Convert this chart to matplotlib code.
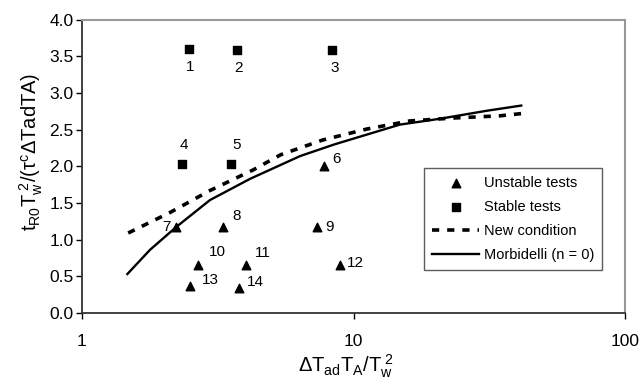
import numpy as np
import matplotlib
matplotlib.use("Agg")
import matplotlib.pyplot as plt

plt.rcParams['font.family'] = ['Liberation Sans', 'DejaVu Sans']
plt.rcParams['mathtext.fontset'] = 'custom'
plt.rcParams['mathtext.rm'] = 'Liberation Sans'
plt.rcParams['mathtext.it'] = 'Liberation Sans'
plt.rcParams['mathtext.default'] = 'regular'

# stable tests (squares)
stable_id = ['1', '2', '3', '4', '5']
stable_x = [2.48, 3.72, 8.33, 2.34, 3.54]
stable_y = [3.60, 3.59, 3.59, 2.03, 2.03]

# unstable tests (triangles)
unstable_id = ['6', '7', '8', '9', '10', '11', '12', '13', '14']
unstable_x = [7.79, 2.22, 3.31, 7.34, 2.67, 4.02, 8.92, 2.50, 3.79]
unstable_y = [2.01, 1.17, 1.17, 1.17, 0.66, 0.66, 0.66, 0.36, 0.34]

# curves
morb_x = [1.47, 1.78, 2.22, 2.96, 4.16, 6.35, 8.5, 14.8, 20.8, 31.0, 41.4]
morb_y = [0.53, 0.86, 1.17, 1.54, 1.83, 2.14, 2.30, 2.57, 2.65, 2.76, 2.83]
new_x = [1.48, 2.11, 2.96, 4.26, 5.4, 7.7, 11.2, 16.1, 23.3, 34.6, 41.4]
new_y = [1.09, 1.37, 1.67, 1.95, 2.16, 2.36, 2.51, 2.62, 2.66, 2.69, 2.72]

# label offsets in points (dx, dy)
stable_off = [(1, -13), (1, -13), (2, -13), (1, 14), (4, 14)]
unstable_off = [(9, 5), (-7, 0), (10, 8), (9, 0), (14, 9), (12, 8), (11, 1), (15, 5), (12, 4)]

fig = plt.figure(figsize=(6.4, 3.82), dpi=100)
ax = fig.add_axes([0.128, 0.181, 0.849, 0.767])

ax.plot(new_x, new_y, color='black', lw=2.6, ls=(0, (2.0, 2.2)), label='New condition')
ax.plot(morb_x, morb_y, color='black', lw=1.7, label='Morbidelli (n = 0)')
ax.scatter(unstable_x, unstable_y, marker='^', s=38, color='black', label='Unstable tests', zorder=3)
ax.scatter(stable_x, stable_y, marker='s', s=30, color='black', label='Stable tests', zorder=3)

for i, xv, yv, (dx, dy) in zip(stable_id, stable_x, stable_y, stable_off):
    ax.annotate(i, (xv, yv), xytext=(dx, dy), textcoords='offset points',
                ha='center', va='center', fontsize=11)
for i, xv, yv, (dx, dy) in zip(unstable_id, unstable_x, unstable_y, unstable_off):
    ax.annotate(i, (xv, yv), xytext=(dx, dy), textcoords='offset points',
                ha='center', va='center', fontsize=11)

ax.set_xscale('log')
ax.set_xlim(1, 100)
ax.set_ylim(0, 4.0)
ax.set_yticks(np.arange(0, 4.01, 0.5))
ax.set_yticklabels(['%.1f' % v for v in np.arange(0, 4.01, 0.5)])
ax.set_xticks([1, 10, 100])
ax.set_xticklabels(['1', '10', '100'])
ax.xaxis.set_minor_locator(matplotlib.ticker.NullLocator())
ax.tick_params(labelsize=12.5, direction='out', length=4, width=1)
ax.tick_params(axis='y', pad=2)
ax.tick_params(axis='x', pad=11)

for s in ['left', 'bottom']:
    ax.spines[s].set_color('#333333')
    ax.spines[s].set_linewidth(1.3)
for s in ['top', 'right']:
    ax.spines[s].set_color('#999999')
    ax.spines[s].set_linewidth(1.5)

ax.set_xlabel(r'$\Delta T_{ad}T_A/T_w^{\ 2}$', fontsize=14.5, labelpad=3)
ax.xaxis.label.set_x(0.485)
ax.set_ylabel(r'$t_{R0}T_w^{\ 2}$/(τ$^c$ΔTadTA)', fontsize=14.5, labelpad=3)
ax.yaxis.label.set_y(0.55)

h, l = ax.get_legend_handles_labels()
order = [2, 3, 0, 1]
leg = ax.legend([h[k] for k in order], [l[k] for k in order],
                loc='upper left', bbox_to_anchor=(0.617, 0.52), fontsize=10.5,
                frameon=True, fancybox=False, edgecolor='#333333',
                handlelength=3.2, handletextpad=0.3, borderpad=0.55,
                labelspacing=0.7, scatterpoints=1)
leg.get_frame().set_linewidth(1.0)

fig.savefig('out.png', dpi=100)
